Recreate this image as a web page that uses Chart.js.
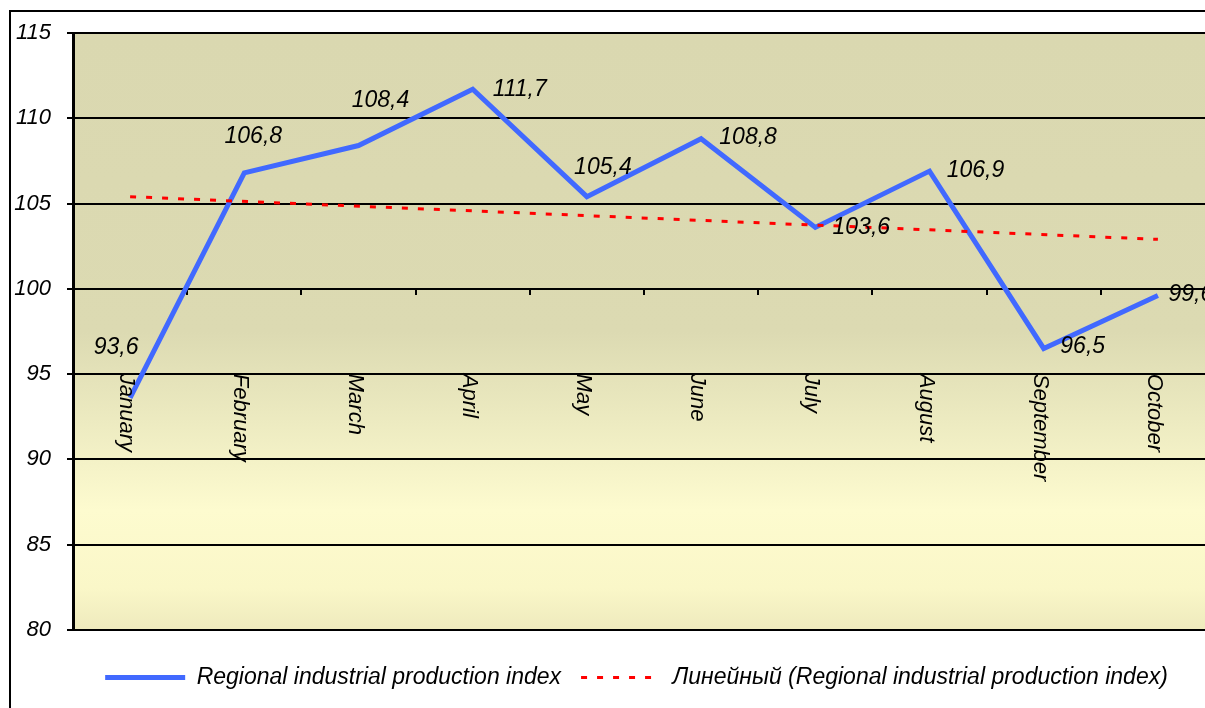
<!DOCTYPE html>
<html>
<head>
<meta charset="utf-8">
<script src="https://cdn.jsdelivr.net/npm/chart.js@4.4.1/dist/chart.umd.min.js"></script>
<style>
    html, body { margin: 0; padding: 0; background: #fff; overflow: hidden; }
    .frame { position: absolute; left: 9px; top: 10px; width: 1400px; height: 800px; border-left: 2px solid #000; border-top: 2px solid #000; }
    .wrap { position: absolute; left: 0; top: 0; width: 1273px; height: 708px; }
</style>
</head>
<body>
<div class="frame"></div>
<div class="wrap"><canvas id="chart1" width="1273" height="708"></canvas></div>
<script>
// data
const months = ['January', 'February', 'March', 'April', 'May', 'June', 'July', 'August', 'September', 'October'];
const productionIndex = [93.6, 106.8, 108.4, 111.7, 105.4, 108.8, 103.6, 106.9, 96.5, 99.6];
const trendIndex = [105.4, null, null, null, null, null, null, null, null, 102.9];
const yTicks = [80, 85, 90, 95, 100, 105, 110, 115];

// label placement next to each point (dx, dy in px)
const labelOffsets = [[-14, -50], [9, -36], [22, -45], [47, 0], [16, -29], [47, -1], [46, 0], [46, -1], [39, -2], [33, -1]];

const FONT = '"Liberation Sans", Arial, sans-serif';

// background of plot area
const areaFill = {
    id: 'areaFill',
    beforeDraw(chart) {
        const {ctx, chartArea: a} = chart;
        const g = ctx.createLinearGradient(0, a.top, 0, a.bottom);
        g.addColorStop(0, '#DAD8B0');
        g.addColorStop(0.5, '#DCDAB2');
        g.addColorStop(0.8, '#FDFBCF');
        g.addColorStop(0.93, '#FAF7C8');
        g.addColorStop(1, '#EEEABD');
        ctx.save();
        ctx.fillStyle = g;
        ctx.fillRect(a.left, a.top, a.right - a.left, a.bottom - a.top);
        ctx.restore();
    }
};

// month names, reading downwards, hanging below the 100 line
const monthLabels = {
    id: 'monthLabels',
    afterDatasetsDraw(chart) {
        const {ctx, scales: {x, y}} = chart;
        const top = y.getPixelForValue(100) + 85;
        ctx.save();
        ctx.font = 'italic 22px ' + FONT;
        ctx.fillStyle = '#000';
        ctx.textAlign = 'left';
        ctx.textBaseline = 'alphabetic';
        months.forEach((m, i) => {
            ctx.save();
            ctx.translate(x.getPixelForTick(i) - 10, top);
            ctx.rotate(Math.PI / 2);
            ctx.fillText(m, 0, 0);
            ctx.restore();
        });
        ctx.restore();
    }
};

// value labels
const valueLabels = {
    id: 'valueLabels',
    afterDatasetsDraw(chart) {
        const {ctx} = chart;
        const meta = chart.getDatasetMeta(0);
        ctx.save();
        ctx.font = 'italic 23px ' + FONT;
        ctx.fillStyle = '#000';
        ctx.textAlign = 'center';
        ctx.textBaseline = 'middle';
        meta.data.forEach((pt, i) => {
            const txt = productionIndex[i].toFixed(1).replace('.', ',');
            ctx.fillText(txt, pt.x + labelOffsets[i][0], pt.y + labelOffsets[i][1]);
        });
        ctx.restore();
    }
};

var ctx = document.getElementById('chart1').getContext('2d');

var myChart = new Chart(ctx, {
    type: 'line',
    data: {
        labels: months,
        datasets: [{
            label: 'Regional industrial production index',
            data: productionIndex,
            borderColor: '#4169FF',
            backgroundColor: '#4169FF',
            borderWidth: 5,
            pointRadius: 0,
            pointStyle: 'line',
            tension: 0,
            order: 2
        }, {
            label: 'Линейный (Regional industrial production index)',
            data: trendIndex,
            borderColor: '#FF0000',
            backgroundColor: '#FF0000',
            borderWidth: 3,
            borderDash: [6, 10],
            pointRadius: 0,
            pointStyle: 'line',
            spanGaps: true,
            tension: 0,
            order: 1
        }]
    },
    plugins: [areaFill, monthLabels, valueLabels],
    options: {
        responsive: false,
        maintainAspectRatio: false,
        animation: false,
        devicePixelRatio: 1,
        layout: {
            padding: { top: 33, bottom: 9, left: 0, right: 0 }
        },
        plugins: {
            legend: {
                position: 'bottom',
                title: { display: true, text: '', font: { size: 1 }, padding: { top: 15, bottom: 0 } },
                labels: {
                    usePointStyle: true,
                    pointStyleWidth: 80,
                    padding: 20,
                    color: '#000',
                    font: { family: FONT, size: 23, style: 'italic' },
                    sort: (a, b) => a.datasetIndex - b.datasetIndex,
                    generateLabels: function (chart) {
                        const items = Chart.defaults.plugins.legend.labels.generateLabels(chart);
                        items.forEach(item => {
                            const ds = chart.data.datasets[item.datasetIndex];
                            item.lineDash = ds.borderDash || [];
                            item.lineWidth = ds.borderWidth;
                            item.strokeStyle = ds.borderColor;
                            item.lineCap = 'butt';
                        });
                        return items;
                    }
                }
            },
            tooltip: { enabled: false }
        },
        scales: {
            x: {
                position: { y: 100 },
                offset: true,
                ticks: { display: false },
                grid: {
                    offset: true,
                    drawOnChartArea: false,
                    drawTicks: true,
                    tickLength: 6,
                    color: '#000',
                    lineWidth: 2
                },
                border: { display: false },
                afterFit: function (scale) {
                    scale.height = 0;
                }
            },
            y: {
                position: 'left',
                min: 80,
                max: 115,
                afterBuildTicks: function (scale) {
                    scale.ticks = yTicks.map(v => ({ value: v }));
                },
                afterFit: function (scale) {
                    scale.width = 73;
                    scale.paddingTop = 0;
                    scale.paddingBottom = 0;
                },
                ticks: {
                    padding: 16,
                    color: '#000',
                    font: { family: FONT, size: 22, style: 'italic' }
                },
                grid: {
                    color: '#000',
                    lineWidth: 2,
                    tickLength: 6
                },
                border: { display: true, color: '#000', width: 3 }
            },
            yr: {
                type: 'linear',
                position: 'right',
                display: true,
                ticks: { display: false },
                grid: { display: false },
                border: { display: false },
                afterFit: function (scale) {
                    scale.width = 58;
                    scale.paddingTop = 0;
                    scale.paddingBottom = 0;
                }
            }
        }
    }
});
</script>
</body>
</html>
